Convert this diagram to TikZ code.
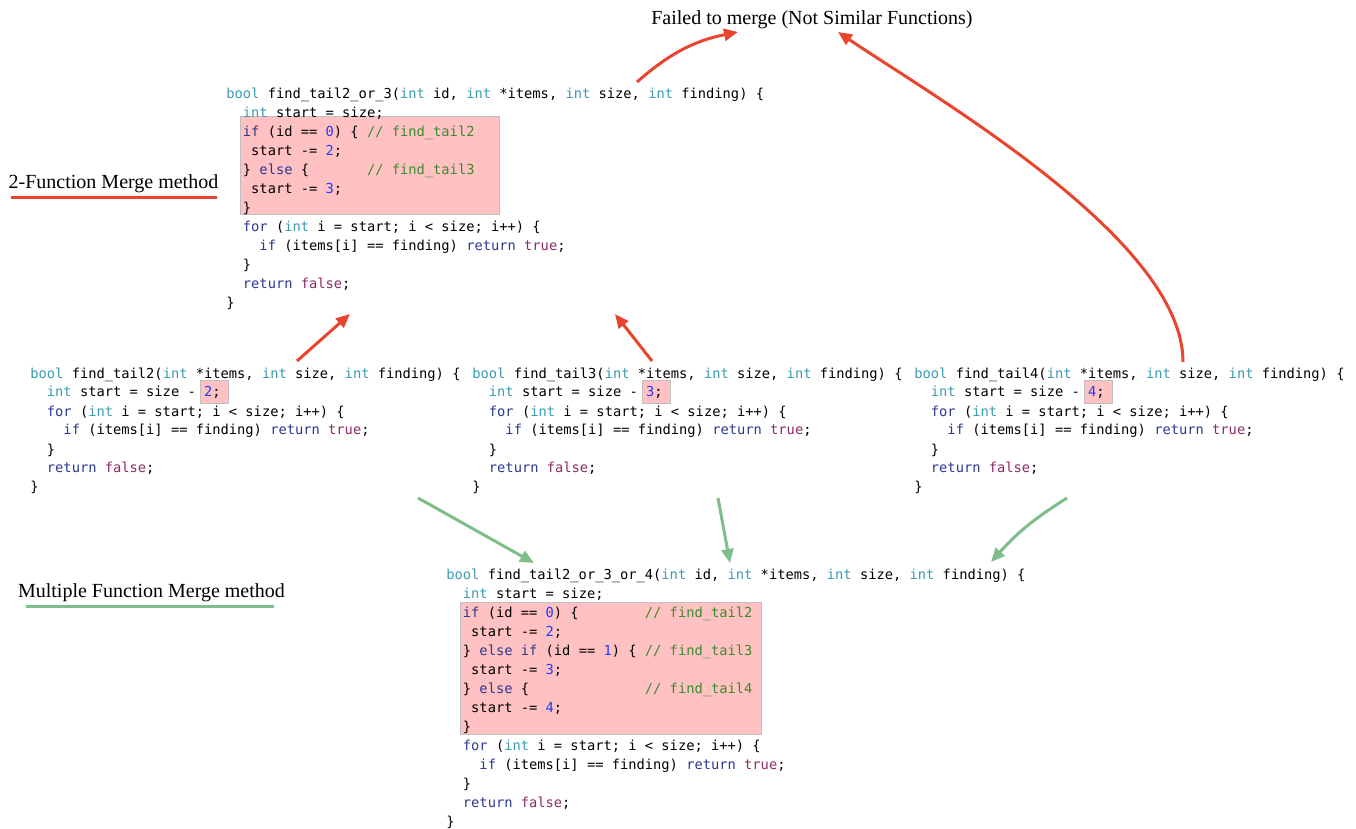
\documentclass[tikz,border=0pt]{standalone}
\usepackage{fontspec}
\setmainfont{Liberation Serif}
\newfontfamily\codefont{DejaVu Sans Mono}
\usetikzlibrary{arrows.meta,backgrounds}

\definecolor{typec}{HTML}{3A9AB0}
\definecolor{kwc}{HTML}{2B3990}
\definecolor{numc}{HTML}{1C3CFF}
\definecolor{cmtc}{HTML}{3A8C2E}
\definecolor{litc}{HTML}{8C2A68}
\definecolor{hlpink}{HTML}{FFC1C1}
\definecolor{failred}{HTML}{E8452F}
\definecolor{okgreen}{HTML}{7DBE8B}

\newcommand\ty[1]{\textcolor{typec}{#1}}
\newcommand\kw[1]{\textcolor{kwc}{#1}}
\newcommand\nm[1]{\textcolor{numc}{#1}}
\newcommand\cm[1]{\textcolor{cmtc}{#1}}
\newcommand\lit[1]{\textcolor{litc}{#1}}
\newcommand\ind[1]{\hspace*{#1\fontcharwd\font`x}}

\tikzset{
    code/.style = {font=\codefont\fontsize{6.87}{9.5}\selectfont, inner sep=0pt, anchor=base west},
    lab/.style = {font=\fontsize{10}{12}\selectfont, inner sep=0pt, anchor=base},
    hlbox/.style = {fill=hlpink, draw=black!25, line width=0.4pt},
    failarrow/.style = {color=failred, line width=1.5pt, -{Triangle[length=7pt,width=6pt]}},
    mergearrow/.style = {color=okgreen, line width=1.5pt, -{Triangle[length=7pt,width=6pt]}},
    underline/.style = {line width=1.5pt}
}

\begin{document}
\begin{tikzpicture}[x=0.5pt,y=0.5pt]
    \useasboundingbox (0,0) rectangle (1356,-829);

    \node[lab] (failtxt) at (812,-25) {Failed to merge (Not Similar Functions)};
    \node[lab] (twolab) at (113.5,-189) {2-Function Merge method};
    \node[lab] (multilab) at (151.5,-597) {Multiple Function Merge method};

    \node[code] (m23) at (226,-99) {\begin{tabular}[t]{@{}l@{}}
        \ty{bool} find\_tail2\_or\_3(\ty{int} id, \ty{int} *items, \ty{int} size, \ty{int} finding) \{\\
        \ind2\ty{int} start = size;\\
        \ind2\kw{if} (id == \nm{0}) \{ \cm{// find\_tail2}\\
        \ind3start -= \nm{2};\\
        \ind2\} \kw{else} \{\ind7\cm{// find\_tail3}\\
        \ind3start -= \nm{3};\\
        \ind2\}\\
        \ind2\kw{for} (\ty{int} i = start; i < size; i++) \{\\
        \ind4\kw{if} (items[i] == finding) \kw{return} \lit{true};\\
        \ind2\}\\
        \ind2\kw{return} \lit{false};\\
        \}
    \end{tabular}};

    \foreach \n/\x in {2/30,3/472,4/914}
        \node[code] (t\n) at (\x,-378) {\begin{tabular}[t]{@{}l@{}}
            \ty{bool} find\_tail\n(\ty{int} *items, \ty{int} size, \ty{int} finding) \{\\
            \ind2\ty{int} start = size - \nm{\n};\\
            \ind2\kw{for} (\ty{int} i = start; i < size; i++) \{\\
            \ind4\kw{if} (items[i] == finding) \kw{return} \lit{true};\\
            \ind2\}\\
            \ind2\kw{return} \lit{false};\\
            \}
        \end{tabular}};

    \node[code] (m234) at (446,-579) {\begin{tabular}[t]{@{}l@{}}
        \ty{bool} find\_tail2\_or\_3\_or\_4(\ty{int} id, \ty{int} *items, \ty{int} size, \ty{int} finding) \{\\
        \ind2\ty{int} start = size;\\
        \ind2\kw{if} (id == \nm{0}) \{\ind8\cm{// find\_tail2}\\
        \ind3start -= \nm{2};\\
        \ind2\} \kw{else} \kw{if} (id == \nm{1}) \{ \cm{// find\_tail3}\\
        \ind3start -= \nm{3};\\
        \ind2\} \kw{else} \{\ind{14}\cm{// find\_tail4}\\
        \ind3start -= \nm{4};\\
        \ind2\}\\
        \ind2\kw{for} (\ty{int} i = start; i < size; i++) \{\\
        \ind4\kw{if} (items[i] == finding) \kw{return} \lit{true};\\
        \ind2\}\\
        \ind2\kw{return} \lit{false};\\
        \}
    \end{tabular}};

    % highlighted lines
    \begin{scope}[on background layer]
        \draw[hlbox] ([shift={(14,-17)}]m23.base west) rectangle ([shift={(273,-115)}]m23.base west);
        \foreach \t in {t2,t3,t4}
            \draw[hlbox] ([shift={(170,-2)}]\t.base west) rectangle ([shift={(198,-25)}]\t.base west);
        \draw[hlbox] ([shift={(14,-23)}]m234.base west) rectangle ([shift={(315,-155)}]m234.base west);
    \end{scope}

    \draw[underline, failred] ([shift={(3,-8.5)}]twolab.base west) -- ([shift={(-2,-8.5)}]twolab.base east);
    \draw[underline, okgreen] ([shift={(8,-9)}]multilab.base west) -- ([shift={(-11,-9)}]multilab.base east);

    \draw[failarrow] ([shift={(267,17)}]t2.base west) -- ([shift={(124,-215)}]m23.base west);
    \draw[failarrow] ([shift={(180,17)}]t3.base west) -- ([shift={(389,-215)}]m23.base west);
    \draw[failarrow] ([shift={(411,17)}]m23.base west) to[bend left=15] ([shift={(-74,-7)}]failtxt.base);
    \draw[failarrow] ([shift={(269,16)}]t4.base west) to[out=90, in=-34, looseness=0.65] ([shift={(26,-7)}]failtxt.base);

    \draw[mergearrow] ([shift={(388,-120)}]t2.base west) -- ([shift={(88,16)}]m234.base west);
    \draw[mergearrow] ([shift={(246,-120)}]t3.base west) -- ([shift={(284,16)}]m234.base west);
    \draw[mergearrow] ([shift={(153,-120)}]t4.base west) to[bend right=8] ([shift={(545,17)}]m234.base west);
\end{tikzpicture}
\end{document}
